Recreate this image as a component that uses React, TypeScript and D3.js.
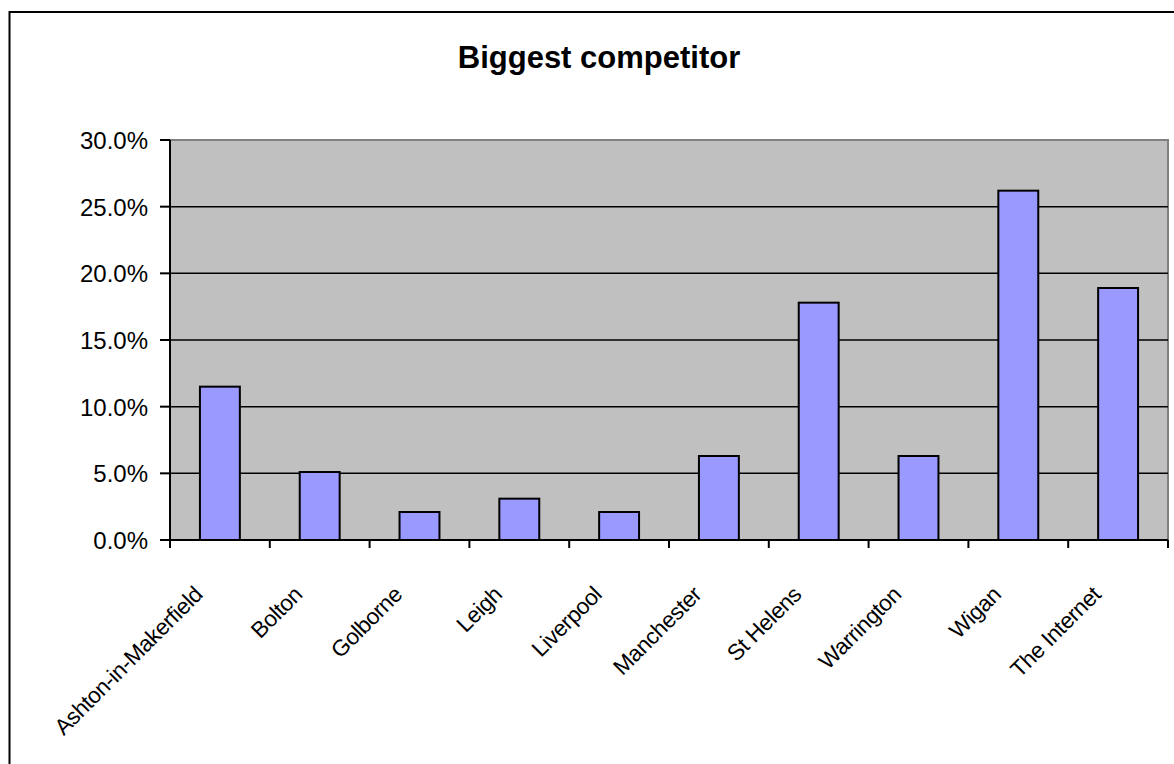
import React from "react";
import * as d3 from "d3";

const title = "Biggest competitor";
const categories = [
  "Ashton-in-Makerfield",
  "Bolton",
  "Golborne",
  "Leigh",
  "Liverpool",
  "Manchester",
  "St Helens",
  "Warrington",
  "Wigan",
  "The Internet",
];
const values = [11.5, 5.1, 2.1, 3.1, 2.1, 6.3, 17.8, 6.3, 26.2, 18.9];
const yTicks = [0, 5, 10, 15, 20, 25, 30];

const W = 1174;
const H = 764;
const plot = { left: 170, right: 1168, top: 140, bottom: 540 };
const FONT = "'Liberation Sans', Arial, Helvetica, sans-serif";

export default function App() {
  const x = d3
    .scaleBand<string>()
    .domain(categories)
    .range([plot.left, plot.right])
    .paddingInner(0.6)
    .paddingOuter(0.3);
  const y = d3.scaleLinear().domain([0, 30]).range([plot.bottom, plot.top]);
  const step = x.step();
  const fmt = (v: number) => v.toFixed(1) + "%";

  return (
    <>
      <style>{"body{margin:0}"}</style>
      <svg width={W} height={H} style={{ display: "block", background: "#fff" }}>
        <rect x={9.5} y={12} width={W + 20} height={H + 20} fill="#fff" stroke="#000" strokeWidth={2} />
        <text
          x={599}
          y={67.5}
          textAnchor="middle"
          fontFamily={FONT}
          fontWeight="bold"
          fontSize={31}
          fill="#000"
        >
          {title}
        </text>

        {/* plot area */}
        <rect
          x={plot.left}
          y={plot.top}
          width={plot.right - plot.left}
          height={plot.bottom - plot.top}
          fill="#C0C0C0"
          stroke="#808080"
          strokeWidth={2}
        />

        {/* gridlines */}
        {yTicks
          .filter((t) => t > 0 && t < 30)
          .map((t) => (
            <line
              key={"g" + t}
              x1={plot.left}
              x2={plot.right}
              y1={y(t)}
              y2={y(t)}
              stroke="#000"
              strokeWidth={1.5}
            />
          ))}

        {/* bars */}
        {categories.map((c, i) => (
          <rect
            key={c}
            x={x(c)}
            y={y(values[i])}
            width={x.bandwidth()}
            height={y(0) - y(values[i])}
            fill="#9999FF"
            stroke="#000"
            strokeWidth={2}
          />
        ))}

        {/* y axis */}
        <line x1={plot.left} x2={plot.left} y1={plot.top} y2={plot.bottom} stroke="#000" strokeWidth={2} />
        {yTicks.map((t) => (
          <g key={"y" + t}>
            <line x1={plot.left - 10} x2={plot.left} y1={y(t)} y2={y(t)} stroke="#000" strokeWidth={2} />
            <text
              x={148}
              y={y(t) + 9}
              textAnchor="end"
              fontFamily={FONT}
              fontSize={24}
              fill="#000"
            >
              {fmt(t)}
            </text>
          </g>
        ))}

        {/* x axis */}
        <line x1={plot.left} x2={plot.right} y1={plot.bottom} y2={plot.bottom} stroke="#000" strokeWidth={2} />
        {d3.range(categories.length + 1).map((i) => (
          <line
            key={"xt" + i}
            x1={plot.left + i * step}
            x2={plot.left + i * step}
            y1={plot.bottom}
            y2={plot.bottom + 8}
            stroke="#000"
            strokeWidth={2}
          />
        ))}
        {categories.map((c) => {
          const cx = (x(c) as number) + x.bandwidth() / 2;
          const ax = cx - 16;
          const ay = 596;
          return (
            <text
              key={"xl" + c}
              x={ax}
              y={ay}
              transform={`rotate(-45 ${ax} ${ay})`}
              textAnchor="end"
              fontFamily={FONT}
              fontSize={22.5}
              letterSpacing={-0.4}
              fill="#000"
            >
              {c}
            </text>
          );
        })}
      </svg>
    </>
  );
}
